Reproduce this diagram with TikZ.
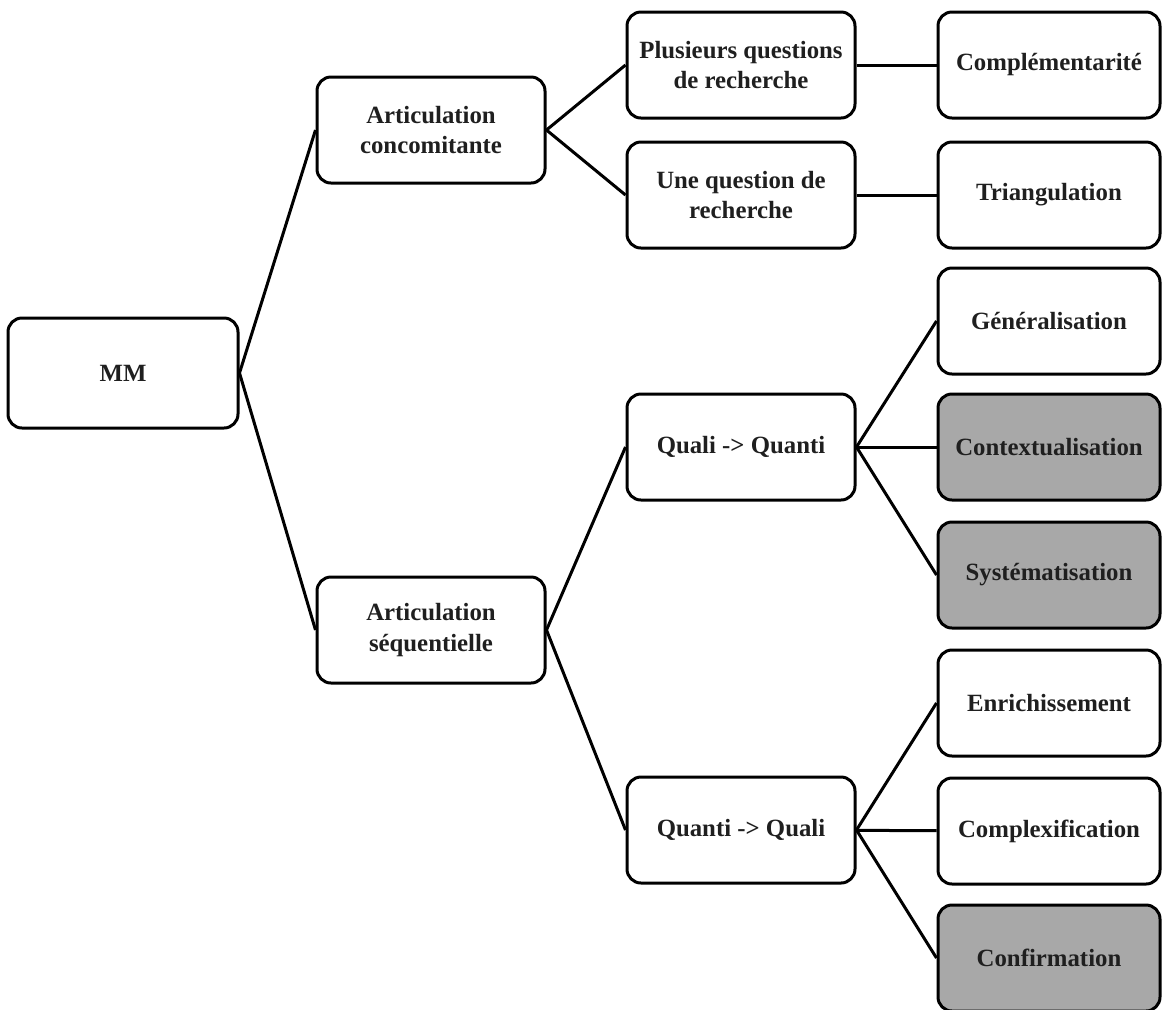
\documentclass[tikz,border=0pt]{standalone}
\usepackage{fontspec}
\setmainfont{Liberation Serif}
\usepackage{tikz}

\begin{document}
\begin{tikzpicture}[x=0.5pt,y=-0.5pt,
  box/.style={draw,line width=1.5pt,rounded corners=7pt,minimum width=114pt,minimum height=53pt,align=center,font=\fontsize{12.4}{15.3}\selectfont\bfseries,text=black!88},
  grisbox/.style={box,fill=black!34}]
\useasboundingbox (0,0) rectangle (1163,1009);
\node[box,minimum width=115pt,minimum height=55pt] (mm) at (123,373) {MM};
\node[box] (conc) at (431,130) {Articulation\\concomitante};
\node[box] (seq) at (431,630) {Articulation\\séquentielle};
\node[box] (plus) at (741,65) {Plusieurs questions\\de recherche};
\node[box] (une) at (741,195) {Une question de\\recherche};
\node[box] (qlqt) at (741,447) {Quali -> Quanti};
\node[box] (qtql) at (741,830) {Quanti -> Quali};
\node[box,minimum width=111pt] (compl) at (1049,65) {Complémentarité};
\node[box,minimum width=111pt] (tri) at (1049,195) {Triangulation};
\node[box,minimum width=111pt] (gen) at (1049,321) {Généralisation};
\node[grisbox,minimum width=111pt] (cont) at (1049,447) {Contextualisation};
\node[grisbox,minimum width=111pt] (syst) at (1049,575) {Systématisation};
\node[box,minimum width=111pt] (enr) at (1049,703) {Enrichissement};
\node[box,minimum width=111pt] (cplx) at (1049,831) {Complexification};
\node[grisbox,minimum width=111pt] (conf) at (1049,958) {Confirmation};

\draw[line width=1.5pt] (conc.west)--(mm.east)--(seq.west);
\draw[line width=1.5pt] (plus.west)--(conc.east)--(une.west);
\draw[line width=1.5pt] (qlqt.west)--(seq.east)--(qtql.west);
\draw[line width=1.5pt] (plus)--(compl);
\draw[line width=1.5pt] (une)--(tri);
\draw[line width=1.5pt] (gen.west)--(qlqt.east)--(syst.west);
\draw[line width=1.5pt] (qlqt)--(cont);
\draw[line width=1.5pt] (enr.west)--(qtql.east)--(conf.west);
\draw[line width=1.5pt] (qtql)--(cplx);
\end{tikzpicture}
\end{document}
